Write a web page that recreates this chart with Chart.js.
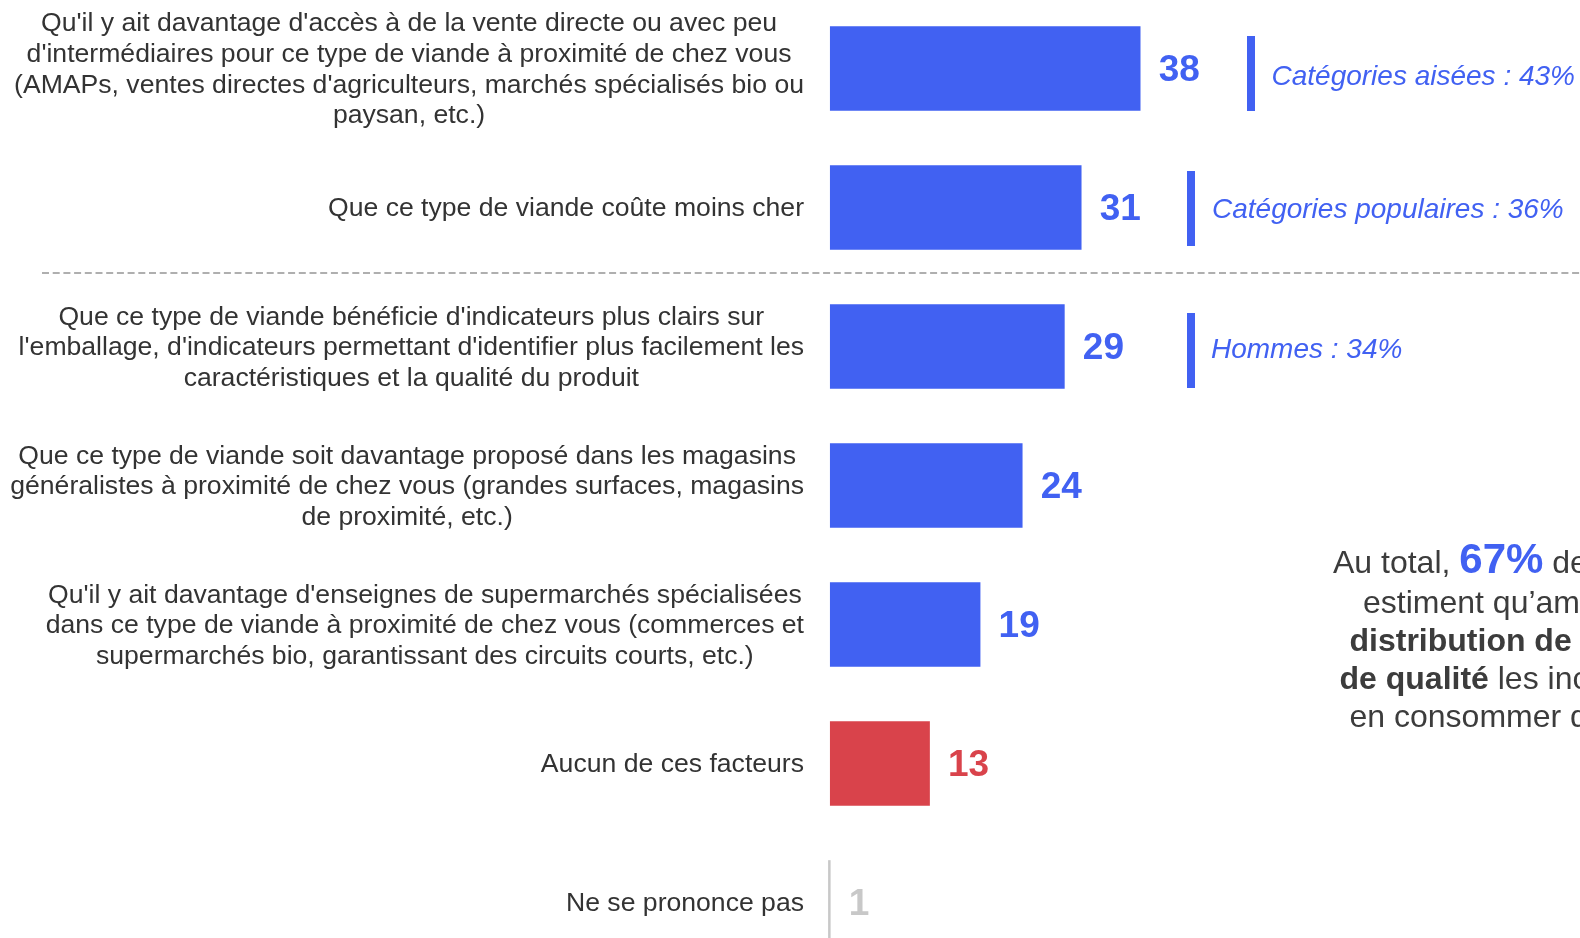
<!DOCTYPE html>
<html><head><meta charset="utf-8">
<script src="https://cdn.jsdelivr.net/npm/chart.js@4.4.1/dist/chart.umd.min.js"></script>
<style>
html,body{margin:0;padding:0;background:#fff;overflow:hidden;width:1580px;height:938px;}
#wrap{position:absolute;left:0;top:-1px;width:1580px;height:973px;}
</style></head><body>
<div id="wrap"><canvas id="c" width="1580" height="973"></canvas></div>
<script>
// ---------- DATA ----------
const categories = [
  ["Qu'il y ait davantage d'accès à de la vente directe ou avec peu",
   "d'intermédiaires pour ce type de viande à proximité de chez vous",
   "(AMAPs, ventes directes d'agriculteurs, marchés spécialisés bio ou",
   "paysan, etc.)"],
  ["Que ce type de viande coûte moins cher"],
  ["Que ce type de viande bénéficie d'indicateurs plus clairs sur",
   "l'emballage, d'indicateurs permettant d'identifier plus facilement les",
   "caractéristiques et la qualité du produit"],
  ["Que ce type de viande soit davantage proposé dans les magasins",
   "généralistes à proximité de chez vous (grandes surfaces, magasins",
   "de proximité, etc.)"],
  ["Qu'il y ait davantage d'enseignes de supermarchés spécialisées",
   "dans ce type de viande à proximité de chez vous (commerces et",
   "supermarchés bio, garantissant des circuits courts, etc.)"],
  ["Aucun de ces facteurs"],
  ["Ne se prononce pas"]
];
const values = [38, 31, 29, 24, 19, 13, 1];
const noteCategoryIndex = [0, 1, 2];
const noteLabels = ["Catégories aisées : 43%", "Catégories populaires : 36%", "Hommes : 34%"];
const totalPercent = "67%";
const summaryLines = [
  [["Au total, ", "reg"], [totalPercent, "big"], [" des Français", "reg"]],
  [["estiment qu\u2019améliorer la", "reg"]],
  [["distribution de la viande", "bold"]],
  [["de qualité", "bold"], [" les inciterait à", "reg"]],
  [["en consommer davantage", "reg"]]
];

// ---------- STYLE ----------
const BLUE = '#4161F2', RED = '#D9434B', GRAY = '#C8C8C8', TEXT = '#333333';
const FONT = '"Liberation Sans", Arial, Helvetica, sans-serif';
const barColors = values.map((v, i) => i === 5 ? RED : (i === 6 ? GRAY : BLUE));
const OFF = 1; // canvas is shifted up by 1px
const noteStyle = [
  {lx: 1247, top: -32.5, bottom: 42.5, tx: 1271.5, base: 16.5},
  {lx: 1187, top: -36.5, bottom: 38.5, tx: 1212, base: 10.5},
  {lx: 1187, top: -33.5, bottom: 41.5, tx: 1211, base: 11.2}
];
const summaryStyle = {starts: [1333, 1363, 1349.5, 1339.5, 1349.5], baselines: [572.7, 612.7, 651, 688.5, 727.2]};

const decor = {
  id: 'decor',
  afterDatasetsDraw(chart) {
    const ctx = chart.ctx;
    const meta = chart.getDatasetMeta(0);
    const yScale = chart.scales.y;
    ctx.save();
    // category labels: block right-aligned, lines centered within block
    ctx.font = '26.6px ' + FONT;
    ctx.fillStyle = TEXT;
    ctx.textBaseline = 'middle';
    ctx.textAlign = 'center';
    const rightEdge = 804;
    const lh = 30.6;
    categories.forEach((lines, i) => {
      const cy = yScale.getPixelForValue(i) + 1.5;
      const maxW = Math.max(...lines.map(l => ctx.measureText(l).width));
      const cx = rightEdge - maxW / 2;
      lines.forEach((l, j) => {
        ctx.fillText(l, cx, cy + (j - (lines.length - 1) / 2) * lh);
      });
    });
    // value labels
    ctx.font = 'bold 37px ' + FONT;
    ctx.textAlign = 'left';
    meta.data.forEach((el, i) => {
      ctx.fillStyle = barColors[i];
      const end = Math.max(el.x, el.base);
      ctx.fillText(String(values[i]), end + 18.5, el.y + 2);
    });
    // dashed separator
    const sepY = (yScale.getPixelForValue(1) + yScale.getPixelForValue(2)) / 2 - 4;
    ctx.strokeStyle = '#AFAFAF';
    ctx.lineWidth = 2;
    ctx.setLineDash([7, 3.7]);
    ctx.beginPath();
    ctx.moveTo(42, sepY);
    ctx.lineTo(1580, sepY);
    ctx.stroke();
    ctx.setLineDash([]);
    // subgroup notes
    ctx.font = 'italic 28px ' + FONT;
    ctx.textBaseline = 'alphabetic';
    noteCategoryIndex.forEach((ci, k) => {
      const cy = yScale.getPixelForValue(ci);
      const s = noteStyle[k];
      ctx.fillStyle = BLUE;
      ctx.fillRect(s.lx, cy + s.top, 8, s.bottom - s.top);
      ctx.fillText(noteLabels[k], s.tx, cy + s.base);
    });
    // summary text
    const fonts = {reg: '32px ' + FONT, bold: 'bold 32px ' + FONT, big: 'bold 42px ' + FONT};
    summaryLines.forEach((segs, li) => {
      let x = summaryStyle.starts[li];
      const y = summaryStyle.baselines[li] + OFF;
      segs.forEach(([t, f]) => {
        ctx.font = fonts[f];
        ctx.fillStyle = f === 'big' ? BLUE : '#3C3C3C';
        ctx.fillText(t, x, y);
        x += ctx.measureText(t).width;
      });
    });
    ctx.restore();
  }
};

new Chart(document.getElementById('c'), {
  type: 'bar',
  data: {
    labels: categories,
    datasets: [{
      data: values,
      backgroundColor: barColors,
      borderWidth: 0,
      base: 1.22,
      barThickness: 84
    }]
  },
  options: {
    indexAxis: 'y',
    responsive: false,
    animation: false,
    events: [],
    layout: {padding: 0},
    plugins: {legend: {display: false}, tooltip: {enabled: false}},
    scales: {
      x: {type: 'linear', display: false, min: 0, max: 90.2},
      y: {
        type: 'category',
        display: true,
        ticks: {display: false},
        grid: {display: false, drawTicks: false},
        border: {display: false},
        afterFit(s) { s.width = 820; }
      }
    }
  },
  plugins: [decor]
});
</script>
</body></html>
